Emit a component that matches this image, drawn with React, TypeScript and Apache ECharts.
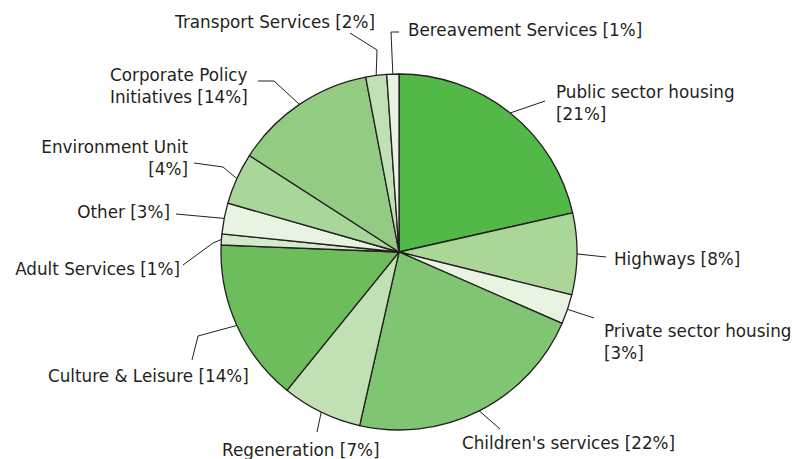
import React, { useEffect, useRef } from "react";
import * as echarts from "echarts";

// Slice order (clockwise from 12 o'clock)
const categories = [
  "Public sector housing",
  "Highways",
  "Private sector housing",
  "Children's services",
  "Regeneration",
  "Culture & Leisure",
  "Adult Services",
  "Other",
  "Environment Unit",
  "Corporate Policy Initiatives",
  "Transport Services",
  "Bereavement Services",
];
// Slice sizes (percent)
const values = [21.5, 7.4, 2.7, 22.0, 7.3, 14.8, 1.0, 2.8, 4.7, 12.9, 1.9, 1.1];
// Percentages printed in the labels
const labelPercents = [21, 8, 3, 22, 7, 14, 1, 3, 4, 14, 2, 1];
const colors = [
  "#52b848", "#aad698", "#e8f3e2", "#80c672", "#c1e1b5", "#6dbd5c",
  "#d3ebcb", "#e8f3e2", "#a9d69a", "#94cb83", "#c1e1b5", "#e8f3e2",
];

// Label text line breaks (layout only)
const labelTexts = [
  "Public sector housing\n[21%]",
  "Highways [8%]",
  "Private sector housing\n[3%]",
  "Children's services [22%]",
  "Regeneration [7%]",
  "Culture & Leisure [14%]",
  "Adult Services [1%]",
  "Other [3%]",
  "Environment Unit\n[4%]",
  "Corporate Policy\nInitiatives [14%]",
  "Transport Services [2%]",
  "Bereavement Services [1%]",
];

// Label placement: text anchor, alignment and leader line bend points
const placements: { x: number; y: number; align: string; pts: number[][] }[] = [
  { x: 556, y: 103, align: "left", pts: [[545, 101]] },
  { x: 614, y: 259, align: "left", pts: [[606, 257]] },
  { x: 604, y: 342, align: "left", pts: [[594, 318]] },
  { x: 462, y: 443, align: "left", pts: [[500, 429]] },
  { x: 222, y: 450, align: "left", pts: [[317, 432]] },
  { x: 48, y: 376, align: "left", pts: [[198, 336], [192, 360]] },
  { x: 180, y: 269, align: "right", pts: [[213, 243], [183, 265]] },
  { x: 170, y: 212, align: "right", pts: [[176, 214]] },
  { x: 188, y: 158, align: "right", pts: [[223, 167], [194, 163]] },
  { x: 110, y: 86, align: "left", pts: [[274, 81], [258, 81]] },
  { x: 375, y: 22, align: "right", pts: [[377, 50], [350, 33]] },
  { x: 408, y: 30, align: "left", pts: [[391, 32], [399, 32]] },
];

export default function App() {
  const ref = useRef<HTMLDivElement>(null);
  useEffect(() => {
    if (!ref.current) return;
    const chart = echarts.init(ref.current, null, { renderer: "svg" });
    const data = categories.map((name, i) => ({
      name,
      value: values[i],
      itemStyle: { color: colors[i] },
      label: { formatter: labelTexts[i].replace(/\[\d+%\]/, `[${labelPercents[i]}%]`) },
    }));
    chart.setOption({
      animation: false,
      backgroundColor: "#ffffff",
      series: [
        {
          type: "pie",
          center: [399, 252],
          radius: [0, 178],
          startAngle: 90,
          clockwise: true,
          avoidLabelOverlap: false,
          data,
          itemStyle: { borderColor: "#231f20", borderWidth: 1.3 },
          label: {
            show: true,
            position: "outer",
            color: "#231f20",
            fontFamily: "DejaVu Sans",
            fontSize: 16.8,
            lineHeight: 22,
          },
          labelLine: {
            show: true,
            length: 15,
            length2: 10,
            lineStyle: { color: "#231f20", width: 1 },
          },
          emphasis: { disabled: true },
          labelLayout: (params: any) => {
            const p = placements[params.dataIndex];
            const start = params.labelLinePoints ? params.labelLinePoints[0] : p.pts[0];
            return {
              x: p.x,
              y: p.y,
              align: p.align,
              verticalAlign: "middle",
              labelLinePoints: [start, ...p.pts],
            };
          },
        },
      ],
    });
    return () => chart.dispose();
  }, []);
  return (
    <div
      ref={ref}
      style={{ position: "fixed", left: 0, top: 0, width: 794, height: 459 }}
    />
  );
}
